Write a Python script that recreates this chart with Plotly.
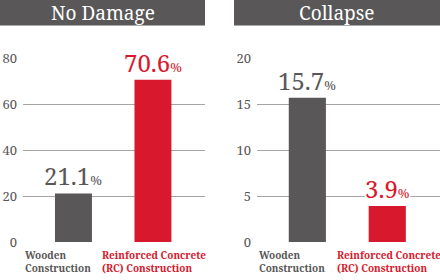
import plotly.graph_objects as go

# ---- data ----
categories = ["Wooden Construction", "Reinforced Concrete (RC) Construction"]
cat_line1 = ["Wooden", "Reinforced Concrete"]
cat_line2 = ["Construction", "(RC) Construction"]
panel_titles = ["No Damage", "Collapse"]
no_damage = [21.1, 70.6]
collapse = [15.7, 3.9]
ticks_left = [0, 20, 40, 60, 80]
ticks_right = [0, 5, 10, 15, 20]

W, H = 440, 280
GRAY = "#595757"
RED = "#d7182d"
GRID = "#a5a5a5"
colors = [GRAY, RED]
SERIF = "'Noto Serif', 'Liberation Serif', 'DejaVu Serif', serif"

def px(x):
    return x / W

def py(y):
    return 1 - y / H

fig = go.Figure()

fig.add_trace(go.Bar(x=categories, y=no_damage, marker=dict(color=colors, line=dict(width=0)),
                     width=0.465, xaxis="x", yaxis="y", hoverinfo="skip"))
fig.add_trace(go.Bar(x=categories, y=collapse, marker=dict(color=colors, line=dict(width=0)),
                     width=0.465, xaxis="x2", yaxis="y2", hoverinfo="skip"))

ydom = [38 / H, 222 / H]
axis_common = dict(showgrid=True, gridcolor=GRID, gridwidth=1, zeroline=False,
                   showline=False, ticks="", tickfont=dict(family=SERIF, size=13, color=GRAY),
                   fixedrange=True, automargin=False, ticklabelstandoff=5)
fig.update_layout(
    template="none",
    font=dict(family=SERIF),
    width=W, height=H, margin=dict(l=0, r=0, t=0, b=0, pad=0, autoexpand=False),
    paper_bgcolor="white", plot_bgcolor="white", showlegend=False,
    xaxis=dict(domain=[px(23), px(205)], range=[-0.635, 1.655], showticklabels=False,
               showgrid=False, zeroline=False, fixedrange=True, automargin=False),
    xaxis2=dict(domain=[px(257), 1], range=[-0.63, 1.66], showticklabels=False,
                showgrid=False, zeroline=False, fixedrange=True, automargin=False),
    yaxis=dict(domain=ydom, range=[0, 80], tickvals=ticks_left, anchor="x", **axis_common),
    yaxis2=dict(domain=ydom, range=[0, 20], tickvals=ticks_right, anchor="x2", **axis_common),
)

# title bars
title_boxes = [(0, 205), (234, 440)]
for (x0, x1), t in zip(title_boxes, panel_titles):
    fig.add_shape(type="rect", xref="paper", yref="paper", x0=px(x0), x1=px(x1),
                  y0=py(25.5), y1=1, fillcolor=GRAY, line=dict(width=0), layer="below")
    fig.add_annotation(xref="paper", yref="paper", x=px((x0 + x1) / 2), y=py(13),
                       text=t, showarrow=False, xanchor="center", yanchor="middle",
                       font=dict(family=SERIF, size=19, color="white"))

# value labels
for xa, ya, vals in [("x", "y", no_damage), ("x2", "y2", collapse)]:
    for c, v, col in zip(categories, vals, colors):
        fig.add_annotation(xref=xa, yref=ya, x=c, y=v, showarrow=False,
                           xanchor="center", yanchor="bottom", yshift=0,
                           bgcolor="white", borderpad=0,
                           text=f"{v}<span style='font-size:13px'>%</span>",
                           font=dict(family=SERIF, size=24, color=col))

# category labels
label_x = [(23, 100), (257, 335)]
for xs in label_x:
    for xl, l1, l2, col in zip(xs, cat_line1, cat_line2, colors):
        fig.add_annotation(xref="paper", yref="paper", x=px(xl), y=py(246),
                           text=f"<b>{l1}<br>{l2}</b>", showarrow=False, xanchor="left",
                           yanchor="top", align="left",
                           font=dict(family=SERIF, size=10, color=col))

fig.write_html("out.html")
